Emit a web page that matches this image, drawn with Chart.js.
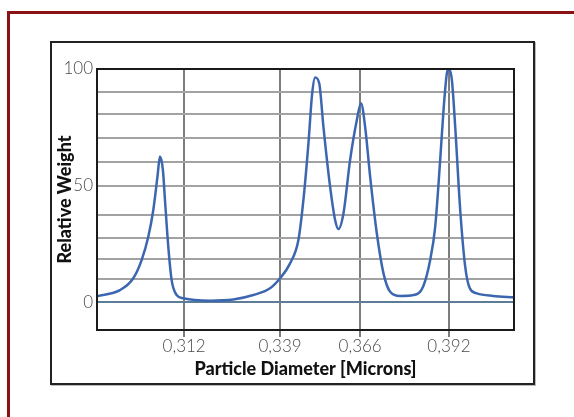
<!DOCTYPE html>
<html>
<head>
<meta charset="utf-8">
<script src="https://cdn.jsdelivr.net/npm/chart.js@4"></script>
<style>
  body { margin: 0; background: #fff; width: 574px; height: 417px; overflow: hidden; position: relative; }
  #redbox { position: absolute; left: 7px; top: 11px; width: 620px; height: 460px; border: 3px solid #8b1212; }
  #frame { position: absolute; left: 50px; top: 41px; width: 481px; height: 340px; border: 2px solid #222; box-shadow: 1px 1px 0 #bbb; }
  #chart { position: absolute; left: 0; top: 0; }
</style>
</head>
<body>
<div id="redbox"></div>
<div id="frame"></div>
<canvas id="chart" width="574" height="417"></canvas>
<script>
// x is the position along the drawn axis (0 = left edge, 100 = right edge)
const xTickPos = [20.9, 43.9, 63.1, 84.4];
const xTickLabels = ['0,312', '0,339', '0,366', '0,392'];
const yGrid = [0, 10, 18.5, 27.5, 37.5, 50, 60, 70.5, 80.5, 90, 100];
const yLabels = { 0: '0', 50: '50', 100: '100' };

const curveX = [0, 5.5, 8.7, 10.7, 12.3, 13.5, 14.5, 15.1, 15.8, 16.3, 17.1, 17.9, 19.1, 20.7,
  27.1, 32.7, 37.5, 41.5, 43.9, 46.3, 48.3, 49.5, 50.7, 51.6, 52.3, 53.3, 54.3, 55.9, 57.1, 57.9,
  59.1, 60.7, 62.3, 63.3, 64.3, 65.5, 67.1, 68.7, 70.3, 72.7, 75.9, 78.2, 79.9, 81.1, 82.3, 83.1,
  83.9, 84.4, 85.1, 85.9, 87.1, 88.3, 89.4, 91.1, 95.0, 100];
const curveY = [2.5, 5.1, 10.2, 18, 28, 39.5, 53.8, 62.4, 56.7, 43.8, 23.7, 9.4, 3, 1.6,
  0.6, 1.1, 3, 5.9, 10.2, 16.6, 26.6, 43.8, 68, 89.5, 96.4, 93.8, 75.2, 49.5, 35.2, 31.3,
  38, 61, 78, 85.3, 75.2, 53.8, 29.5, 12.3, 4.4, 2.6, 3, 6.6, 18, 32.3, 61, 82.4,
  98.1, 100, 95.3, 75.2, 39.5, 15.2, 5.9, 3.7, 2.6, 2];

const points = curveX.map((x, i) => ({ x: x, y: curveY[i] }));

const plotFrame = {
  id: 'plotFrame',
  afterDraw(chart) {
    const a = chart.chartArea, c = chart.ctx;
    c.save();
    c.strokeStyle = '#1a1a1a';
    c.lineWidth = 2;
    c.strokeRect(a.left, a.top, a.right - a.left, a.bottom - a.top);
    c.restore();
  }
};

const tickFont = { family: "Lato, 'DejaVu Sans', sans-serif", size: 17, weight: '300' };
const titleFont = { family: "Lato, 'DejaVu Sans', sans-serif", size: 18, weight: '900' };

new Chart(document.getElementById('chart'), {
  type: 'line',
  data: {
    datasets: [{
      data: points,
      borderColor: '#3c67b0',
      borderWidth: 2.5,
      pointRadius: 0,
      cubicInterpolationMode: 'monotone',
      fill: false
    }]
  },
  options: {
    responsive: false,
    animation: false,
    devicePixelRatio: 1,
    layout: { padding: { left: 50, top: 69, right: 60, bottom: 30 } },
    plugins: { legend: { display: false }, tooltip: { enabled: false } },
    scales: {
      x: {
        type: 'linear',
        min: 0,
        max: 100,
        afterBuildTicks: s => { s.ticks = xTickPos.map(v => ({ value: v })); },
        afterFit: s => { s.height = 57; },
        grid: { color: '#7d7d7d', lineWidth: 2, tickLength: 7, tickColor: '#7d7d7d' },
        border: { display: false },
        ticks: {
          font: tickFont, color: '#4a4a4a', padding: -1, maxRotation: 0,
          callback: (v, i) => xTickLabels[i]
        },
        title: { display: true, text: 'Particle Diameter [Microns]', font: titleFont, color: '#111', padding: { bottom: 7, top: 0 } }
      },
      y: {
        min: -12,
        max: 100,
        afterBuildTicks: s => { s.ticks = yGrid.map(v => ({ value: v })); },
        afterFit: s => { s.width = 47; },
        grid: {
          color: c => c.tick && c.tick.value === 0 ? '#5d7c98' : '#a2a2a2',
          lineWidth: 2,
          drawTicks: false
        },
        border: { display: false },
        ticks: {
          font: tickFont, color: '#4a4a4a', padding: 4,
          callback: v => yLabels[v] || ''
        },
        title: { display: true, text: 'Relative Weight', font: titleFont, color: '#111', padding: { top: 4, bottom: 0 } }
      }
    }
  },
  plugins: [plotFrame]
});
</script>
</body>
</html>
